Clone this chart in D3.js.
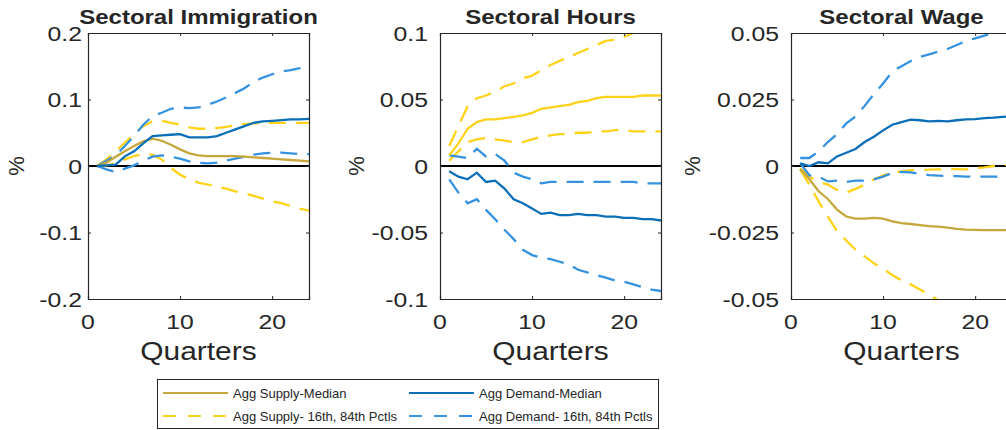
<!DOCTYPE html>
<html>
<head>
<meta charset="utf-8">
<script src="https://cdn.jsdelivr.net/npm/d3@7"></script>
<style>
  body { margin: 0; background: #fff; }
  svg { display: block; font-family: "Liberation Sans", Arial, Helvetica, sans-serif; }
</style>
</head>
<body>
<svg id="chart" width="1006" height="430"></svg>
<script>
// quarters after the shock
const quarters = [1, 2, 3, 4, 5, 6, 7, 8, 9, 10, 11, 12, 13, 14, 15, 16, 17, 18, 19, 20, 21, 22, 23, 24];

// Sectoral Immigration
const immigSupplyMed = [0, 0.005, 0.014, 0.022, 0.03, 0.037, 0.041, 0.038, 0.032, 0.025, 0.019, 0.016, 0.015, 0.015, 0.015, 0.015, 0.014, 0.013, 0.012, 0.011, 0.01, 0.009, 0.008, 0.007];
const immigSupplyHi = [0, 0.01, 0.022, 0.035, 0.048, 0.06, 0.067, 0.068, 0.065, 0.062, 0.058, 0.056, 0.056, 0.057, 0.059, 0.061, 0.063, 0.064, 0.065, 0.065, 0.065, 0.065, 0.065, 0.065];
const immigSupplyLo = [0, 0.001, 0.004, 0.01, 0.015, 0.018, 0.017, 0.01, -0.003, -0.013, -0.02, -0.025, -0.028, -0.031, -0.034, -0.038, -0.041, -0.045, -0.049, -0.053, -0.056, -0.06, -0.064, -0.067];
const immigDemandMed = [0, 0.001, 0.002, 0.0145, 0.022, 0.034, 0.045, 0.046, 0.047, 0.048, 0.043, 0.043, 0.043, 0.045, 0.05, 0.055, 0.06, 0.065, 0.067, 0.068, 0.069, 0.07, 0.07, 0.071];
const immigDemandHi = [0, 0.008, 0.016, 0.03, 0.045, 0.062, 0.075, 0.08, 0.086, 0.088, 0.087, 0.088, 0.092, 0.097, 0.103, 0.11, 0.117, 0.127, 0.133, 0.138, 0.142, 0.144, 0.147, 0.15];
const immigDemandLo = [0, -0.005, -0.009, -0.004, 0.001, 0.008, 0.014, 0.016, 0.014, 0.011, 0.007, 0.005, 0.004, 0.005, 0.008, 0.011, 0.014, 0.017, 0.019, 0.02, 0.02, 0.019, 0.018, 0.018];

// Sectoral Hours
const hoursSupplyMed = [0.008, 0.017, 0.028, 0.033, 0.035, 0.035, 0.036, 0.037, 0.038, 0.04, 0.043, 0.044, 0.045, 0.046, 0.048, 0.049, 0.051, 0.052, 0.052, 0.052, 0.052, 0.053, 0.053, 0.053];
const hoursSupplyHi = [0.015, 0.03, 0.045, 0.051, 0.053, 0.056, 0.06, 0.062, 0.066, 0.068, 0.072, 0.076, 0.079, 0.082, 0.085, 0.088, 0.091, 0.094, 0.095, 0.097, 0.1, 0.102, 0.104, 0.106];
const hoursSupplyLo = [0.004, 0.011, 0.018, 0.02, 0.021, 0.02, 0.019, 0.018, 0.018, 0.02, 0.022, 0.023, 0.024, 0.024, 0.025, 0.025, 0.026, 0.026, 0.027, 0.027, 0.026, 0.026, 0.026, 0.026];
const hoursDemandMed = [-0.004, -0.008, -0.01, -0.005, -0.012, -0.011, -0.017, -0.025, -0.028, -0.032, -0.036, -0.035, -0.037, -0.037, -0.036, -0.037, -0.037, -0.038, -0.038, -0.039, -0.039, -0.04, -0.04, -0.041];
const hoursDemandHi = [0.008, 0.007, 0.006, 0.013, 0.007, 0.009, 0.004, -0.005, -0.008, -0.01, -0.013, -0.012, -0.012, -0.012, -0.012, -0.012, -0.012, -0.012, -0.012, -0.012, -0.012, -0.013, -0.013, -0.013];
const hoursDemandLo = [-0.01, -0.02, -0.028, -0.025, -0.033, -0.04, -0.048, -0.055, -0.063, -0.067, -0.069, -0.07, -0.072, -0.074, -0.078, -0.08, -0.082, -0.084, -0.086, -0.087, -0.089, -0.091, -0.093, -0.094];

// Sectoral Wage
const wageSupplyMed = [-0.001, -0.005, -0.0095, -0.0124, -0.0164, -0.019, -0.0198, -0.0198, -0.0195, -0.0198, -0.0208, -0.0215, -0.0218, -0.0222, -0.0226, -0.0228, -0.0232, -0.0236, -0.0239, -0.024, -0.0241, -0.0241, -0.0241, -0.0241];
const wageSupplyHi = [-0.001, -0.004, -0.006, -0.007, -0.009, -0.01, -0.0086, -0.007, -0.005, -0.0035, -0.0026, -0.002, -0.0016, -0.0015, -0.0014, -0.0013, -0.0012, -0.0012, -0.0013, -0.0008, -0.0005, 0, 0.0004, 0.0005];
const wageSupplyLo = [-0.0014, -0.007, -0.0133, -0.019, -0.0245, -0.028, -0.0314, -0.034, -0.0366, -0.0386, -0.041, -0.043, -0.0445, -0.0464, -0.0483, -0.0505, -0.052, -0.0535, -0.055, -0.0565, -0.058, -0.059, -0.06, -0.061];
const wageDemandMed = [0.001, 0, 0.0014, 0.001, 0.0036, 0.005, 0.0064, 0.009, 0.011, 0.0134, 0.0155, 0.0165, 0.0174, 0.0172, 0.0168, 0.017, 0.0168, 0.0172, 0.0175, 0.0176, 0.018, 0.0182, 0.0185, 0.0186];
const wageDemandHi = [0.003, 0.003, 0.0055, 0.009, 0.012, 0.016, 0.0186, 0.0226, 0.027, 0.031, 0.0355, 0.0375, 0.0395, 0.041, 0.042, 0.043, 0.044, 0.0455, 0.047, 0.048, 0.049, 0.05, 0.051, 0.052];
const wageDemandLo = [0.001, -0.0035, -0.004, -0.0058, -0.0055, -0.006, -0.0055, -0.0055, -0.005, -0.004, -0.0026, -0.0022, -0.0024, -0.003, -0.0034, -0.0036, -0.0038, -0.0038, -0.004, -0.004, -0.004, -0.004, -0.0041, -0.0041];

const titles = ['Sectoral Immigration', 'Sectoral Hours', 'Sectoral Wage'];
const yDomains = [[-0.2, 0.2], [-0.1, 0.1], [-0.05, 0.05]];
const yTicks = [[-0.2, -0.1, 0, 0.1, 0.2], [-0.1, -0.05, 0, 0.05, 0.1], [-0.05, -0.025, 0, 0.025, 0.05]];
const yTickLabels = [['-0.2', '-0.1', '0', '0.1', '0.2'], ['-0.1', '-0.05', '0', '0.05', '0.1'], ['-0.05', '-0.025', '0', '0.025', '0.05']];
const xTicks = [0, 10, 20];
const legendLabels = ['Agg Supply-Median', 'Agg Demand-Median', 'Agg Supply- 16th, 84th Pctls', 'Agg Demand- 16th, 84th Pctls'];

const gold = '#c6a73c';
const yellow = '#ffd21a';
const navy = '#0a6fb8';
const sky = '#3592e0';
const axisColor = '#262626';

const panels = [
  { supply: [immigSupplyMed, immigSupplyLo, immigSupplyHi], demand: [immigDemandMed, immigDemandLo, immigDemandHi], medColor: gold },
  { supply: [hoursSupplyMed, hoursSupplyLo, hoursSupplyHi], demand: [hoursDemandMed, hoursDemandLo, hoursDemandHi], medColor: yellow },
  { supply: [wageSupplyMed, wageSupplyLo, wageSupplyHi], demand: [wageDemandMed, wageDemandLo, wageDemandHi], medColor: gold }
];

const svg = d3.select('#chart');
const panelLeft = [88, 440, 791];
const panelW = 221;
const plotTop = 33, plotBottom = 299;
const labelGap = [6, 12, 12];
const ylabelX = [17, 357, 693];

// stretched text helper (the source figure is a bit wide)
function stext(g, x, y, str, size, sx, anchor, weight) {
  return g.append('text')
    .attr('transform', `translate(${x},${y}) scale(${sx},1)`)
    .attr('text-anchor', anchor)
    .attr('font-size', size)
    .attr('font-weight', weight || 'normal')
    .attr('fill', axisColor)
    .text(str);
}

panels.forEach((p, i) => {
  const x0 = panelLeft[i];
  const x = d3.scaleLinear().domain([0, 24]).range([x0, x0 + panelW]);
  const y = d3.scaleLinear().domain(yDomains[i]).range([plotBottom, plotTop]);
  const g = svg.append('g');

  g.append('clipPath').attr('id', 'clip' + i)
    .append('rect').attr('x', x0).attr('y', plotTop).attr('width', panelW).attr('height', plotBottom - plotTop);

  const plot = g.append('g').attr('clip-path', `url(#clip${i})`);

  const line = d3.line()
    .x((d, k) => x(quarters[k]))
    .y(d => y(d));

  // zero line
  plot.append('line')
    .attr('x1', x(0)).attr('x2', x(24))
    .attr('y1', y(0)).attr('y2', y(0))
    .attr('stroke', '#000').attr('stroke-width', 2);

  const series = [
    { data: p.supply[1], color: yellow, dash: '17,10' },
    { data: p.supply[2], color: yellow, dash: '17,10' },
    { data: p.demand[1], color: sky, dash: '17,10' },
    { data: p.demand[2], color: sky, dash: '17,10' },
    { data: p.supply[0], color: p.medColor, dash: null },
    { data: p.demand[0], color: navy, dash: null }
  ];
  series.forEach(s => {
    plot.append('path')
      .datum(s.data)
      .attr('fill', 'none')
      .attr('stroke', s.color)
      .attr('stroke-width', 2.3)
      .attr('stroke-dasharray', s.dash)
      .attr('d', line);
  });

  // axes box with inward ticks
  const axBottom = d3.axisBottom(x).tickValues(xTicks).tickSize(-3).tickFormat('');
  const axTop = d3.axisTop(x).tickValues(xTicks).tickSize(-3).tickFormat('');
  const axLeft = d3.axisLeft(y).tickValues(yTicks[i]).tickSize(-3).tickFormat('');
  const axRight = d3.axisRight(y).tickValues(yTicks[i]).tickSize(-3).tickFormat('');
  [[axBottom, `translate(0,${plotBottom})`], [axTop, `translate(0,${plotTop})`],
   [axLeft, `translate(${x0},0)`], [axRight, `translate(${x0 + panelW},0)`]].forEach(([ax, tr]) => {
    const a = g.append('g').attr('transform', tr).call(ax);
    a.select('.domain').attr('stroke', axisColor).attr('stroke-width', 1.2);
    a.selectAll('.tick line').attr('stroke', axisColor);
  });

  // tick labels
  yTicks[i].forEach((t, k) => {
    stext(g, x0 - labelGap[i], y(t) + 7.5, yTickLabels[i][k], 21, 1.18, 'end');
  });
  xTicks.forEach(t => {
    stext(g, x(t), 329, String(t), 21, 1.18, 'middle');
  });

  stext(g, x0 + panelW / 2, 24, titles[i], 20, 1.2, 'middle', 'bold');
  stext(g, x0 + panelW / 2, 360, 'Quarters', 26, 1.15, 'middle');

  g.append('text')
    .attr('transform', `translate(${ylabelX[i] + 7},166) rotate(-90)`)
    .attr('text-anchor', 'middle')
    .attr('font-size', 22)
    .attr('fill', axisColor)
    .text('%');
});

// legend
const lg = svg.append('g');
lg.append('rect')
  .attr('x', 157.5).attr('y', 379.5).attr('width', 501).attr('height', 49)
  .attr('fill', '#fff').attr('stroke', axisColor).attr('stroke-width', 1);

const legendItems = [
  { label: legendLabels[0], color: gold, dash: null, x: 163, y: 393 },
  { label: legendLabels[1], color: navy, dash: null, x: 409, y: 393 },
  { label: legendLabels[2], color: yellow, dash: '13,12', x: 163, y: 416 },
  { label: legendLabels[3], color: sky, dash: '13,12', x: 409, y: 416 }
];
legendItems.forEach(it => {
  lg.append('line')
    .attr('x1', it.x).attr('x2', it.x + 65)
    .attr('y1', it.y).attr('y2', it.y)
    .attr('stroke', it.color).attr('stroke-width', 2)
    .attr('stroke-dasharray', it.dash);
  lg.append('text')
    .attr('x', it.x + 70).attr('y', it.y + 4.5)
    .attr('font-size', 13)
    .attr('fill', axisColor)
    .text(it.label);
});
</script>
</body>
</html>
